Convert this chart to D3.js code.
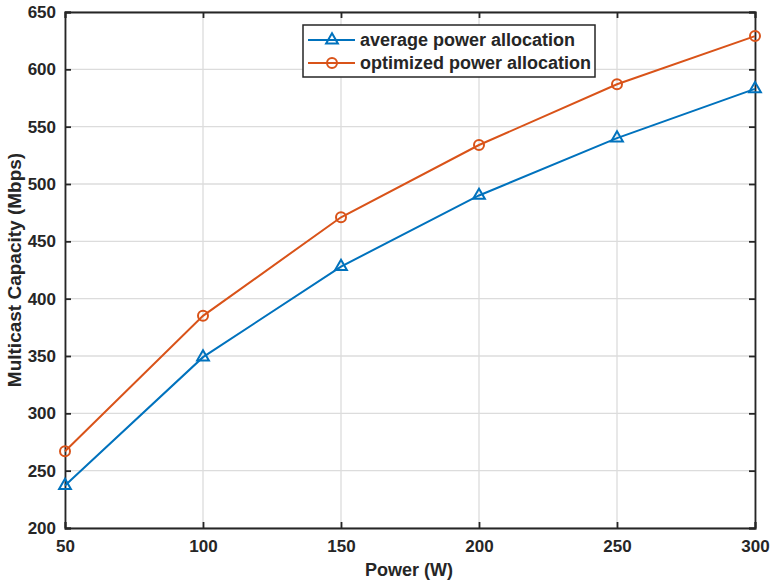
<!DOCTYPE html>
<html><head><meta charset="utf-8">
<script src="https://cdn.jsdelivr.net/npm/d3@7"></script>
<style>body{margin:0;background:#fff}svg{display:block}text{font-family:"Liberation Sans",Arial,sans-serif;font-weight:bold;fill:#262626}</style>
</head><body>
<script>
const powers = [50, 100, 150, 200, 250, 300];
const averageCap = [237, 349, 428, 490, 540, 583];
const optimizedCap = [267, 385, 471, 534, 587, 629];
const xTicks = [50, 100, 150, 200, 250, 300];
const yTicks = [200, 250, 300, 350, 400, 450, 500, 550, 600, 650];
const seriesNames = ["average power allocation", "optimized power allocation"];
const colors = ["#0072BD", "#D95319"];

const W = 771, H = 585;
const m = {left: 65, right: 16, top: 12, bottom: 57};
const svg = d3.select("body").append("svg").attr("width", W).attr("height", H);
const x = d3.scaleLinear().domain([50, 300]).range([m.left, W - m.right]);
const y = d3.scaleLinear().domain([200, 650]).range([H - m.bottom, m.top]);

// grid
svg.append("g").selectAll("line").data(xTicks).join("line")
  .attr("x1", d => x(d)).attr("x2", d => x(d)).attr("y1", y(200)).attr("y2", y(650))
  .attr("stroke", "#dcdcdc").attr("stroke-width", 1.3);
svg.append("g").selectAll("line").data(yTicks).join("line")
  .attr("y1", d => y(d)).attr("y2", d => y(d)).attr("x1", x(50)).attr("x2", x(300))
  .attr("stroke", "#dcdcdc").attr("stroke-width", 1.3);

// axes
const xAxis = svg.append("g").attr("transform", `translate(0,${y(200)})`)
  .call(d3.axisBottom(x).tickValues(xTicks).tickSize(-6).tickPadding(12).tickFormat(d3.format("d")));
const yAxis = svg.append("g").attr("transform", `translate(${x(50)},0)`)
  .call(d3.axisLeft(y).tickValues(yTicks).tickSize(-6).tickPadding(9).tickFormat(d3.format("d")));
const xAxisTop = svg.append("g").attr("transform", `translate(0,${y(650)})`)
  .call(d3.axisTop(x).tickValues(xTicks).tickSize(-6).tickFormat(""));
const yAxisRight = svg.append("g").attr("transform", `translate(${x(300)},0)`)
  .call(d3.axisRight(y).tickValues(yTicks).tickSize(-6).tickFormat(""));
[xAxis, yAxis, xAxisTop, yAxisRight].forEach(g => {
  g.select(".domain").attr("stroke", "#262626").attr("stroke-width", 1.8);
  g.selectAll(".tick line").attr("stroke", "#262626").attr("stroke-width", 1.8);
  g.selectAll("text").attr("font-size", 17).attr("fill", "#262626")
    .attr("font-family", "Liberation Sans, Arial, sans-serif").attr("font-weight", "bold");
});

// axis titles
svg.append("text").attr("x", (x(50) + x(300)) / 2 - 1).attr("y", 576).attr("text-anchor", "middle")
  .attr("font-size", 18).text("Power (W)");
svg.append("text").attr("transform", `translate(21,${(y(200) + y(650)) / 2}) rotate(-90)`)
  .attr("text-anchor", "middle").attr("font-size", 19).text("Multicast Capacity (Mbps)");

// lines
const series = [averageCap, optimizedCap];
const line = d3.line().x((d, i) => x(powers[i])).y(d => y(d));
series.forEach((s, k) => {
  svg.append("path").datum(s).attr("d", line).attr("fill", "none")
    .attr("stroke", colors[k]).attr("stroke-width", 2);
});
const tri = d3.symbol().type(d3.symbolTriangle).size(60);
svg.append("g").selectAll("path").data(averageCap).join("path")
  .attr("transform", (d, i) => `translate(${x(powers[i])},${y(d)})`)
  .attr("d", tri).attr("fill", "none").attr("stroke", colors[0]).attr("stroke-width", 2);
svg.append("g").selectAll("circle").data(optimizedCap).join("circle")
  .attr("cx", (d, i) => x(powers[i])).attr("cy", d => y(d)).attr("r", 5)
  .attr("fill", "none").attr("stroke", colors[1]).attr("stroke-width", 2);

// legend
const lg = svg.append("g");
lg.append("rect").attr("x", 303).attr("y", 25).attr("width", 292).attr("height", 52)
  .attr("fill", "#fff").attr("stroke", "#262626").attr("stroke-width", 1.5);
seriesNames.forEach((n, k) => {
  const yy = 40 + k * 23;
  lg.append("line").attr("x1", 308).attr("x2", 355).attr("y1", yy).attr("y2", yy)
    .attr("stroke", colors[k]).attr("stroke-width", 2);
  if (k === 0) lg.append("path").attr("transform", `translate(332,${yy})`).attr("d", tri)
    .attr("fill", "none").attr("stroke", colors[0]).attr("stroke-width", 2);
  else lg.append("circle").attr("cx", 332).attr("cy", yy).attr("r", 5)
    .attr("fill", "none").attr("stroke", colors[1]).attr("stroke-width", 2);
  lg.append("text").attr("x", 360).attr("y", yy + 6).attr("font-size", 18).text(n);
});
</script>
</body></html>
